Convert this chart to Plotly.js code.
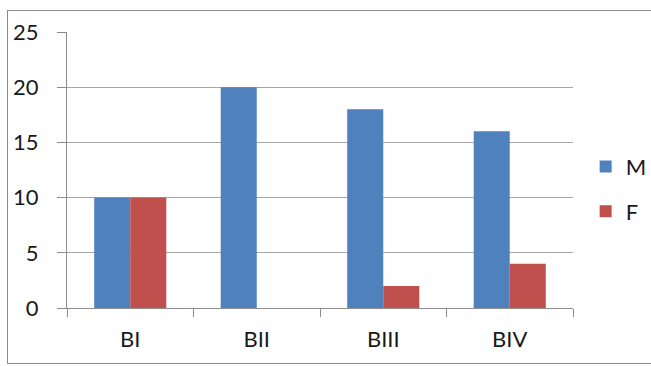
<!DOCTYPE html>
<html>
<head>
<meta charset="utf-8">
<script src="https://cdn.plot.ly/plotly-3.0.1.min.js"></script>
<style>
  html, body { margin:0; padding:0; background:#fff; width:651px; height:366px; overflow:hidden; }
  #frame { position:absolute; left:7px; top:10px; width:644px; height:354px; border:1.5px solid #8c8c8c; border-right:none; box-sizing:border-box; }
  #chart { position:absolute; left:0; top:0; width:651px; height:366px; }
</style>
</head>
<body>
<div id="frame"></div>
<div id="chart"></div>
<script>
const categories = ["BI", "BII", "BIII", "BIV"];
const seriesM = [10, 20, 18, 16];
const seriesF = [10, 0, 2, 4];
const yTicks = [0, 5, 10, 15, 20, 25];

const font = "Lato, 'Open Sans', 'Liberation Sans', sans-serif";

const traces = [
  { type: "bar", name: "M", x: categories, y: seriesM, marker: { color: "#4F81BD" }, legendgroup: "m" },
  { type: "bar", name: "F", x: categories, y: seriesF, marker: { color: "#C0504D" }, legendgroup: "f" }
];

const layout = {
  width: 651, height: 366,
  margin: { l: 67, r: 78, t: 32, b: 58, pad: 0, autoexpand: false },
  paper_bgcolor: "rgba(0,0,0,0)",
  plot_bgcolor: "rgba(0,0,0,0)",
  barmode: "group",
  bargap: 0.43,
  bargroupgap: 0,
  font: { family: font, size: 22, color: "#1a1a1a" },
  xaxis: {
    type: "category",
    showline: true, linecolor: "#8c8c8c", linewidth: 1,
    ticks: "outside", ticklen: 8, tickcolor: "#8c8c8c",
    tickson: "boundaries",
    showgrid: false,
    tickfont: { size: 22 },
    ticklabelstandoff: 12
  },
  yaxis: {
    range: [0, 25],
    tickvals: yTicks,
    ticktext: yTicks.map(String),
    showline: true, linecolor: "#8c8c8c", linewidth: 1,
    ticks: "outside", ticklen: 9, tickcolor: "#8c8c8c",
    showgrid: true, gridcolor: "#a6a6a6", gridwidth: 1,
    zeroline: false,
    tickfont: { size: 22 },
    ticklabelstandoff: 14
  },
  legend: {
    x: 1.025, xanchor: "left",
    y: 0.43, yanchor: "middle",
    traceorder: "grouped",
    tracegroupgap: 13,
    itemwidth: 30,
    font: { size: 22 },
    bgcolor: "rgba(0,0,0,0)"
  },
  showlegend: true
};

Plotly.newPlot("chart", traces, layout, { displayModeBar: false, staticPlot: true });
</script>
</body>
</html>
